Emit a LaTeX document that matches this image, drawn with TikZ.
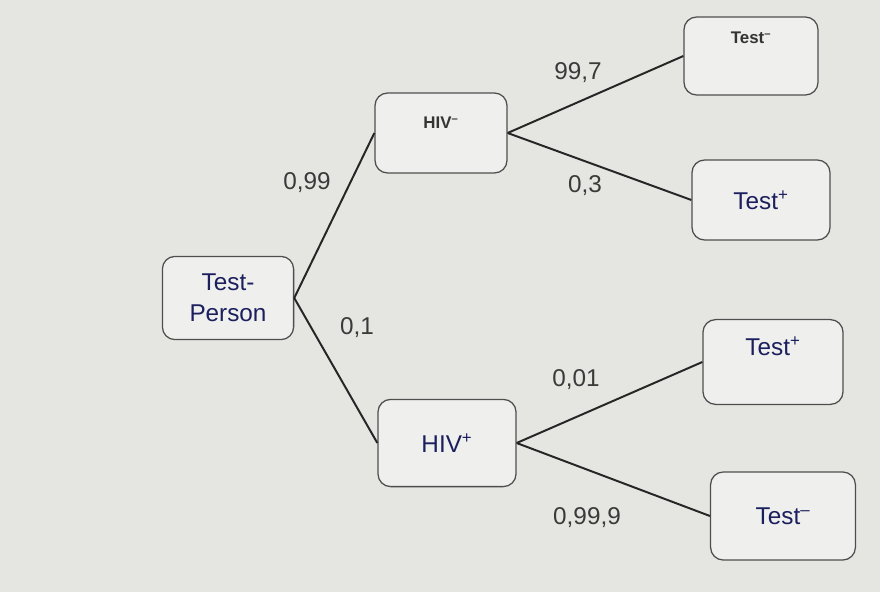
\documentclass[tikz,border=0pt]{standalone}
\usepackage{fontspec}
\setmainfont{Liberation Sans}
\usepackage{xcolor}

\definecolor{paper}{HTML}{E5E5E2}
\definecolor{ink}{HTML}{1C1F5E}
\definecolor{pencil}{HTML}{3A3A3A}
\definecolor{frame}{HTML}{4E4E4E}

\tikzset{
  box/.style={draw=frame, line width=0.9pt, rounded corners=9pt, fill=paper!60!white, align=center},
  hand/.style={text=ink, font=\LARGE},
  print/.style={text=pencil!90!black, font=\large\bfseries},
  branch/.style={draw=black!85, line width=1.4pt},
  prob/.style={text=pencil, font=\LARGE}
}

\begin{document}
\begin{tikzpicture}[x=0.025cm, y=-0.025cm]
  % Paper background
  \fill[paper] (0,0) rectangle (880,592);
  \useasboundingbox (0,0) rectangle (880,592);

  % Boxes of the tree
  \node[box, hand, minimum width=3.28cm, minimum height=2.08cm] (person) at (228,298) {Test-\\Person};
  \node[box, print, minimum width=3.3cm, minimum height=2cm, text depth=0.5cm] (hivneg) at (441,133) {HIV\textsuperscript{--}};
  \node[box, hand, minimum width=3.45cm, minimum height=2.18cm] (hivpos) at (447,443) {HIV\textsuperscript{+}};
  \node[box, print, minimum width=3.35cm, minimum height=1.95cm, text depth=0.9cm] (negneg) at (751,56) {Test\textsuperscript{--}};
  \node[box, hand, minimum width=3.45cm, minimum height=2cm] (negpos) at (761,200) {Test\textsuperscript{+}};
  \node[box, hand, minimum width=3.5cm, minimum height=2.12cm, text depth=0.8cm] (pospos) at (773,362) {Test\textsuperscript{+}};
  \node[box, hand, minimum width=3.62cm, minimum height=2.2cm] (posneg) at (783,516) {Test\textsuperscript{--}};

  % Draw the branches
  \draw[branch] (person.east) -- (hivneg.west);
  \draw[branch] (person.east) -- (hivpos.west);
  \draw[branch] (hivneg.east) -- (negneg.west);
  \draw[branch] (hivneg.east) -- (negpos.west);
  \draw[branch] (hivpos.east) -- (pospos.west);
  \draw[branch] (hivpos.east) -- (posneg.west);

  % Probabilities on the branches
  \node[prob] (p1) at (307,183) {0,99};
  \node[prob] (p2) at (357,328) {0,1};
  \node[prob] (p3) at (578,73) {99,7};
  \node[prob] (p4) at (585,186) {0,3};
  \node[prob] (p5) at (576,380) {0,01};
  \node[prob] (p6) at (587,518) {0,99,9};
\end{tikzpicture}
\end{document}
